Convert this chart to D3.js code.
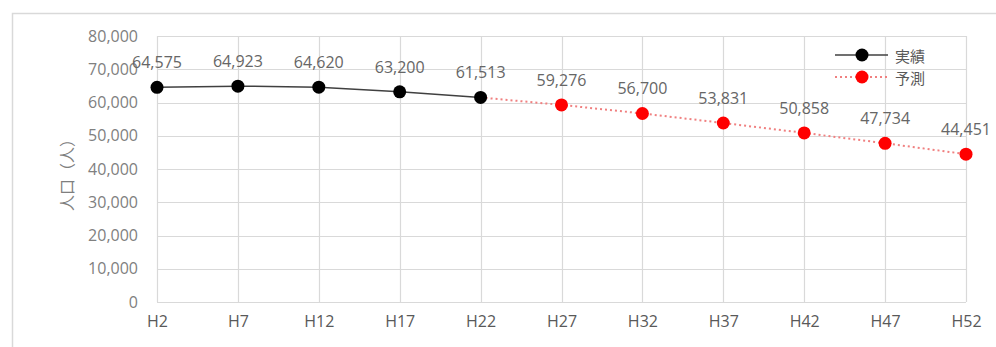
<!DOCTYPE html>
<html>
<head>
<meta charset="utf-8">
<script src="https://cdn.jsdelivr.net/npm/d3@7"></script>
<style>
  html, body { margin: 0; padding: 0; background: #fff; }
  svg { display: block; font-family: "Noto Sans CJK JP", "Noto Sans", sans-serif; }
</style>
</head>
<body>
<svg id="chart" width="996" height="347"></svg>
<script>
// Population by survey year (Heisei era)
const categories = ["H2", "H7", "H12", "H17", "H22", "H27", "H32", "H37", "H42", "H47", "H52"];
const actualValues = [64575, 64923, 64620, 63200, 61513];
const forecastValues = [61513, 59276, 56700, 53831, 50858, 47734, 44451]; // starts at H22
const yTicks = [0, 10000, 20000, 30000, 40000, 50000, 60000, 70000, 80000];
const seriesNames = ["実績", "予測"];
const yTitle = "人口（人）";

const svg = d3.select("#chart");
const W = 996, H = 347;
const plot = { left: 157, right: 966, top: 36, bottom: 302 };
const numFont = "'Open Sans', 'Noto Sans', sans-serif";

// Outer frame (top and left edges visible)
svg.append("path")
  .attr("d", `M12.5,${H} V13.5 H${W}`)
  .attr("fill", "none").attr("stroke", "#d9d9d9").attr("stroke-width", 1.5);

const x = d3.scalePoint().domain(categories).range([plot.left, plot.right]);
const y = d3.scaleLinear().domain([0, 80000]).range([plot.bottom, plot.top]);
const fmt = d3.format(",");

// Horizontal gridlines + y labels
const yAxis = d3.axisLeft(y).tickValues(yTicks).tickFormat(fmt).tickSize(0).tickPadding(19);
const gy = svg.append("g").attr("transform", `translate(${plot.left},0)`).call(yAxis);
gy.select(".domain").remove();
gy.selectAll("text").attr("fill", "#808080").style("font-size", "16px").style("font-family", numFont);

svg.append("g").selectAll("line").data(yTicks).join("line")
  .attr("x1", plot.left).attr("x2", plot.right)
  .attr("y1", d => Math.round(y(d)) + 0.5).attr("y2", d => Math.round(y(d)) + 0.5)
  .attr("stroke", "#d9d9d9").attr("stroke-width", 1.2);

// Vertical gridlines at each category
svg.append("g").selectAll("line").data(categories).join("line")
  .attr("x1", d => Math.round(x(d)) + 0.5).attr("x2", d => Math.round(x(d)) + 0.5)
  .attr("y1", plot.top).attr("y2", plot.bottom)
  .attr("stroke", "#d9d9d9").attr("stroke-width", 1.2);

// X axis labels
const xAxis = d3.axisBottom(x).tickSize(0).tickPadding(14);
const gx = svg.append("g").attr("transform", `translate(0,${plot.bottom})`).call(xAxis);
gx.select(".domain").remove();
gx.selectAll("text").attr("fill", "#595959").style("font-size", "16px").style("font-family", numFont);

// Y axis title
svg.append("text")
  .attr("transform", `translate(66,${(plot.top + plot.bottom) / 2 + 2}) rotate(-90)`)
  .attr("text-anchor", "middle").attr("dominant-baseline", "central")
  .attr("fill", "#7f7f7f").style("font-size", "16px")
  .text(yTitle);

const actual = actualValues.map((v, i) => ({ c: categories[i], v }));
const forecast = forecastValues.map((v, i) => ({ c: categories[i + 4], v }));
const line = d3.line().x(d => x(d.c)).y(d => y(d.v));

// Forecast dotted line
svg.append("path").datum(forecast).attr("d", line)
  .attr("fill", "none").attr("stroke", "#f08080").attr("stroke-width", 2)
  .attr("stroke-dasharray", "2,3");

// Actual solid line
svg.append("path").datum(actual).attr("d", line)
  .attr("fill", "none").attr("stroke", "#404040").attr("stroke-width", 1.5);

// Markers
svg.append("g").selectAll("circle").data(forecast.slice(1)).join("circle")
  .attr("cx", d => x(d.c)).attr("cy", d => y(d.v)).attr("r", 6.5).attr("fill", "#ff0000");
svg.append("g").selectAll("circle").data(actual).join("circle")
  .attr("cx", d => x(d.c)).attr("cy", d => y(d.v)).attr("r", 6.5).attr("fill", "#000");

// Value labels
const labelData = actual.concat(forecast.slice(1));
svg.append("g").selectAll("text").data(labelData).join("text")
  .attr("x", d => x(d.c)).attr("y", d => y(d.v) - 25)
  .attr("text-anchor", "middle").attr("dominant-baseline", "central")
  .attr("fill", "#666").style("font-size", "16px").style("font-family", numFont)
  .text(d => fmt(d.v));

// Legend
const legend = svg.append("g");
const lg = [
  { name: seriesNames[0], color: "#000", lineColor: "#404040", dash: null, yy: 55 },
  { name: seriesNames[1], color: "#ff0000", lineColor: "#f08080", dash: "2,3", yy: 77 }
];
lg.forEach(d => {
  legend.append("line").attr("x1", 835).attr("x2", 888).attr("y1", d.yy).attr("y2", d.yy)
    .attr("stroke", d.lineColor).attr("stroke-width", d.dash ? 2 : 1.5)
    .attr("stroke-dasharray", d.dash);
  legend.append("circle").attr("cx", 862).attr("cy", d.yy).attr("r", 6.5).attr("fill", d.color);
  legend.append("text").attr("x", 895).attr("y", d.yy).attr("dominant-baseline", "central")
    .attr("fill", "#595959").style("font-size", "15px").text(d.name);
});
</script>
</body>
</html>
